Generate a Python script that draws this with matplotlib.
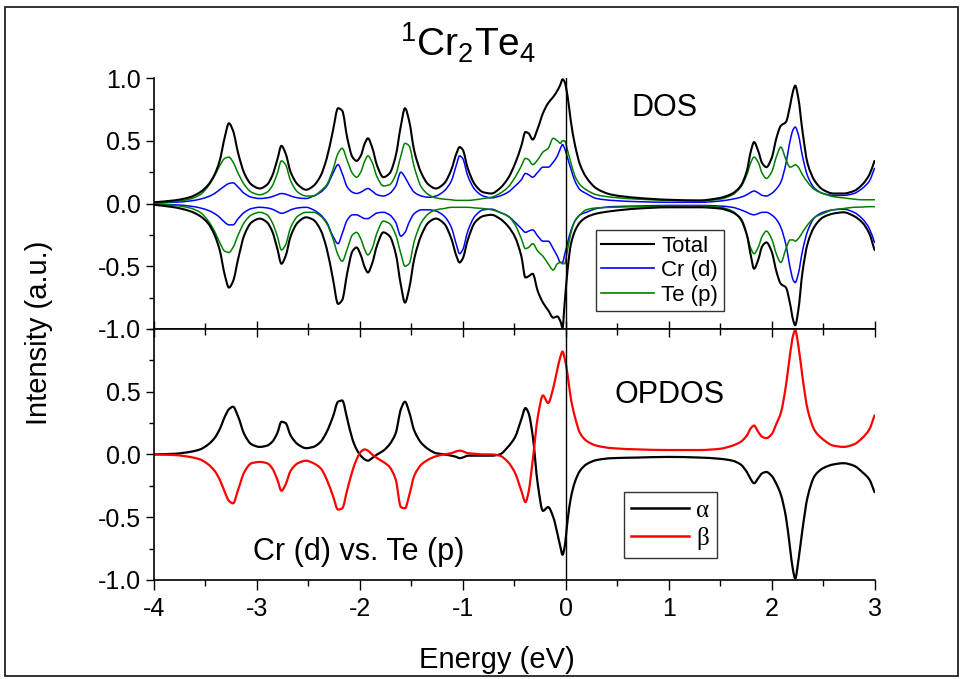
import numpy as np
import matplotlib
matplotlib.use('Agg')
import matplotlib.pyplot as plt
from matplotlib.patches import Rectangle, PathPatch
from matplotlib.path import Path
from matplotlib.lines import Line2D
from matplotlib.ticker import MultipleLocator, FixedLocator

plt.rcParams['font.family'] = ['Liberation Sans', 'DejaVu Sans']
plt.rcParams['mathtext.fontset'] = 'custom'
plt.rcParams['mathtext.rm'] = 'Liberation Sans'
plt.rcParams['mathtext.default'] = 'regular'
plt.rcParams['axes.unicode_minus'] = False

# energy grid (eV)
energy = [-4.0, -3.8, -3.65, -3.55, -3.47, -3.41, -3.36, -3.31, -3.27, -3.23,
          -3.18, -3.12, -3.05, -2.97, -2.9, -2.85, -2.8, -2.76, -2.72, -2.67,
          -2.6, -2.52, -2.45, -2.38, -2.32, -2.26, -2.21, -2.17, -2.12, -2.07,
          -2.03, -1.99, -1.95, -1.92, -1.88, -1.83, -1.77, -1.71, -1.65, -1.6,
          -1.56, -1.52, -1.47, -1.4, -1.33, -1.26, -1.18, -1.11, -1.06, -1.03,
          -1.0, -0.95, -0.88, -0.8, -0.72, -0.64, -0.56, -0.49, -0.43, -0.39,
          -0.36, -0.32, -0.27, -0.22, -0.17, -0.12, -0.08, -0.05, -0.03, -0.01,
          0.02, 0.05, 0.09, 0.14, 0.2, 0.3, 0.45, 0.7, 1.0, 1.3,
          1.5, 1.62, 1.7, 1.76, 1.8, 1.83, 1.87, 1.91, 1.95, 2.0,
          2.05, 2.09, 2.14, 2.18, 2.21, 2.23, 2.26, 2.3, 2.35, 2.42,
          2.5, 2.6, 2.7, 2.8, 2.88, 2.95, 3.0]

# DOS, spin up / spin down
total_up = [0.01, 0.025, 0.05, 0.09, 0.15, 0.23, 0.34, 0.53, 0.64, 0.58,
            0.40, 0.24, 0.15, 0.12, 0.15, 0.22, 0.35, 0.46, 0.40, 0.25,
            0.15, 0.11, 0.14, 0.22, 0.36, 0.58, 0.76, 0.74, 0.52, 0.37,
            0.34, 0.38, 0.48, 0.52, 0.45, 0.30, 0.21, 0.24, 0.38, 0.62,
            0.76, 0.66, 0.42, 0.24, 0.15, 0.12, 0.16, 0.27, 0.40, 0.45,
            0.43, 0.28, 0.15, 0.09, 0.08, 0.12, 0.20, 0.32, 0.46, 0.57,
            0.56, 0.51, 0.60, 0.72, 0.80, 0.85, 0.90, 0.95, 0.99, 0.97,
            0.85, 0.66, 0.47, 0.31, 0.21, 0.12, 0.07, 0.045, 0.03, 0.025,
            0.045, 0.08, 0.14, 0.26, 0.42, 0.49, 0.42, 0.32, 0.29, 0.36,
            0.53, 0.62, 0.65, 0.78, 0.90, 0.94, 0.84, 0.58, 0.32, 0.18,
            0.11, 0.08, 0.08, 0.10, 0.15, 0.23, 0.34]
total_dn = [-0.01, -0.03, -0.06, -0.10, -0.16, -0.25, -0.37, -0.57, -0.67, -0.62,
            -0.44, -0.25, -0.15, -0.12, -0.15, -0.22, -0.36, -0.48, -0.42, -0.26,
            -0.15, -0.11, -0.13, -0.21, -0.36, -0.60, -0.80, -0.77, -0.55, -0.38,
            -0.35, -0.41, -0.51, -0.55, -0.48, -0.33, -0.23, -0.26, -0.40, -0.65,
            -0.79, -0.68, -0.44, -0.25, -0.15, -0.12, -0.16, -0.28, -0.42, -0.47,
            -0.44, -0.29, -0.15, -0.10, -0.09, -0.12, -0.18, -0.27, -0.42, -0.59,
            -0.58, -0.56, -0.70, -0.79, -0.85, -0.91, -0.90, -0.94, -0.99, -0.80,
            -0.52, -0.33, -0.22, -0.15, -0.11, -0.08, -0.06, -0.04, -0.03, -0.03,
            -0.04, -0.07, -0.12, -0.25, -0.42, -0.52, -0.45, -0.34, -0.31, -0.38,
            -0.55, -0.64, -0.67, -0.80, -0.93, -0.97, -0.85, -0.55, -0.32, -0.18,
            -0.11, -0.08, -0.07, -0.10, -0.15, -0.24, -0.37]
cr_up = [0.005, 0.01, 0.02, 0.035, 0.055, 0.08, 0.11, 0.14, 0.16, 0.165,
         0.13, 0.08, 0.05, 0.04, 0.045, 0.055, 0.07, 0.08, 0.075, 0.06,
         0.045, 0.04, 0.06, 0.09, 0.14, 0.24, 0.31, 0.24, 0.13, 0.09,
         0.08, 0.09, 0.11, 0.12, 0.10, 0.07, 0.06, 0.08, 0.14, 0.25,
         0.21, 0.15, 0.09, 0.06, 0.05, 0.06, 0.10, 0.18, 0.31, 0.38,
         0.36, 0.22, 0.11, 0.06, 0.045, 0.06, 0.09, 0.14, 0.19, 0.24,
         0.23, 0.21, 0.25, 0.29, 0.29, 0.33, 0.38, 0.44, 0.47, 0.44,
         0.36, 0.28, 0.18, 0.11, 0.08, 0.04, 0.025, 0.015, 0.01, 0.01,
         0.02, 0.035, 0.05, 0.07, 0.09, 0.10, 0.085, 0.065, 0.06, 0.08,
         0.12, 0.17, 0.32, 0.50, 0.59, 0.61, 0.55, 0.38, 0.22, 0.12,
         0.08, 0.065, 0.065, 0.08, 0.12, 0.18, 0.28]
cr_dn = [-0.005, -0.01, -0.02, -0.035, -0.055, -0.08, -0.11, -0.15, -0.17, -0.17,
         -0.12, -0.07, -0.04, -0.03, -0.035, -0.045, -0.065, -0.078, -0.07, -0.05,
         -0.035, -0.03, -0.05, -0.09, -0.15, -0.26, -0.32, -0.24, -0.13, -0.09,
         -0.09, -0.105, -0.12, -0.12, -0.10, -0.075, -0.07, -0.09, -0.15, -0.26,
         -0.23, -0.15, -0.08, -0.05, -0.05, -0.06, -0.10, -0.19, -0.33, -0.40,
         -0.37, -0.22, -0.10, -0.05, -0.045, -0.07, -0.10, -0.15, -0.20, -0.23,
         -0.22, -0.21, -0.26, -0.30, -0.30, -0.36, -0.42, -0.47, -0.47, -0.41,
         -0.31, -0.22, -0.14, -0.09, -0.07, -0.04, -0.025, -0.02, -0.015, -0.015,
         -0.02, -0.03, -0.05, -0.07, -0.085, -0.09, -0.08, -0.07, -0.07, -0.09,
         -0.13, -0.19, -0.33, -0.51, -0.61, -0.63, -0.56, -0.38, -0.22, -0.11,
         -0.07, -0.05, -0.045, -0.07, -0.12, -0.20, -0.31]
te_up = [0.005, 0.015, 0.035, 0.07, 0.14, 0.22, 0.30, 0.36, 0.37, 0.33,
         0.24, 0.15, 0.09, 0.07, 0.09, 0.14, 0.24, 0.34, 0.31, 0.18,
         0.09, 0.06, 0.06, 0.10, 0.15, 0.27, 0.40, 0.44, 0.34, 0.24,
         0.21, 0.25, 0.34, 0.38, 0.33, 0.21, 0.14, 0.15, 0.23, 0.38,
         0.48, 0.46, 0.29, 0.13, 0.07, 0.045, 0.035, 0.03, 0.025, 0.025,
         0.025, 0.025, 0.03, 0.04, 0.05, 0.08, 0.13, 0.21, 0.30, 0.36,
         0.35, 0.31, 0.35, 0.41, 0.44, 0.52, 0.50, 0.48, 0.50, 0.50,
         0.42, 0.33, 0.22, 0.15, 0.11, 0.07, 0.05, 0.035, 0.025, 0.02,
         0.035, 0.07, 0.13, 0.23, 0.33, 0.37, 0.33, 0.24, 0.20, 0.25,
         0.38, 0.45, 0.35, 0.29, 0.30, 0.31, 0.29, 0.23, 0.17, 0.11,
         0.08, 0.055, 0.045, 0.035, 0.03, 0.03, 0.03]
te_dn = [-0.005, -0.015, -0.035, -0.07, -0.14, -0.22, -0.31, -0.38, -0.39, -0.35,
         -0.25, -0.15, -0.09, -0.07, -0.09, -0.15, -0.26, -0.37, -0.33, -0.19,
         -0.10, -0.07, -0.07, -0.10, -0.16, -0.28, -0.41, -0.46, -0.36, -0.25,
         -0.23, -0.28, -0.37, -0.41, -0.36, -0.23, -0.14, -0.16, -0.25, -0.40,
         -0.50, -0.48, -0.30, -0.15, -0.08, -0.05, -0.04, -0.03, -0.03, -0.03,
         -0.03, -0.03, -0.035, -0.04, -0.05, -0.07, -0.10, -0.17, -0.28, -0.36,
         -0.35, -0.32, -0.38, -0.42, -0.48, -0.53, -0.48, -0.47, -0.48, -0.48,
         -0.36, -0.24, -0.14, -0.09, -0.05, -0.035, -0.03, -0.025, -0.02, -0.02,
         -0.03, -0.06, -0.13, -0.25, -0.36, -0.40, -0.35, -0.26, -0.22, -0.28,
         -0.41, -0.47, -0.36, -0.29, -0.29, -0.30, -0.28, -0.23, -0.17, -0.11,
         -0.08, -0.05, -0.04, -0.03, -0.028, -0.025, -0.025]

# OPDOS Cr (d) vs. Te (p)
opdos_alpha = [0.0, 0.005, 0.02, 0.04, 0.08, 0.13, 0.20, 0.30, 0.36, 0.38,
               0.30, 0.16, 0.08, 0.06, 0.07, 0.10, 0.17, 0.26, 0.25, 0.15,
               0.08, 0.05, 0.06, 0.10, 0.18, 0.30, 0.42, 0.43, 0.28, 0.12,
               0.04, -0.01, -0.04, -0.05, -0.03, 0.0, 0.03, 0.08, 0.17, 0.36,
               0.42, 0.34, 0.19, 0.09, 0.04, 0.01, 0.0, -0.01, -0.02, -0.03,
               -0.025, -0.01, -0.01, -0.01, -0.01, 0.0, 0.06, 0.14, 0.28, 0.37,
               0.33, 0.15, -0.24, -0.45, -0.42, -0.50, -0.63, -0.74, -0.80, -0.74,
               -0.52, -0.35, -0.22, -0.13, -0.08, -0.045, -0.03, -0.025, -0.02, -0.025,
               -0.035, -0.05, -0.08, -0.14, -0.20, -0.23, -0.19, -0.15, -0.14, -0.17,
               -0.24, -0.32, -0.50, -0.75, -0.93, -0.99, -0.85, -0.60, -0.34, -0.17,
               -0.11, -0.08, -0.07, -0.09, -0.14, -0.20, -0.30]
opdos_beta = [0.0, -0.005, -0.02, -0.04, -0.08, -0.13, -0.20, -0.30, -0.37, -0.39,
              -0.28, -0.14, -0.07, -0.06, -0.07, -0.11, -0.20, -0.29, -0.24, -0.13,
              -0.07, -0.05, -0.07, -0.11, -0.20, -0.33, -0.44, -0.43, -0.28, -0.13,
              -0.04, 0.02, 0.04, 0.03, 0.0, -0.03, -0.06, -0.10, -0.20, -0.42,
              -0.43, -0.33, -0.17, -0.08, -0.04, -0.015, 0.0, 0.01, 0.025, 0.03,
              0.025, 0.01, 0.005, 0.0, 0.0, -0.01, -0.06, -0.15, -0.29, -0.38,
              -0.30, -0.05, 0.30, 0.47, 0.41, 0.53, 0.68, 0.78, 0.82, 0.77,
              0.63, 0.45, 0.30, 0.17, 0.11, 0.07, 0.05, 0.04, 0.035, 0.035,
              0.045, 0.07, 0.10, 0.15, 0.21, 0.23, 0.18, 0.14, 0.13, 0.16,
              0.25, 0.33, 0.55, 0.80, 0.95, 0.99, 0.87, 0.62, 0.36, 0.19,
              0.12, 0.07, 0.06, 0.08, 0.13, 0.20, 0.31]

x_ticks = [-4, -3, -2, -1, 0, 1, 2, 3]
x_ticklabels = ['-4', '-3', '-2', '-1', '0', '1', '2', '3']

BLUE = '#0000ff'
GREEN = '#008000'
RED = '#ff0000'


def curve(ax, x, y, color, lw):
    # draw the read points as a smooth curve (monotone cubic segments, like Origin's spline line)
    x = np.asarray(x, float)
    y = np.asarray(y, float)
    h = np.diff(x)
    d = np.diff(y) / h
    m = np.zeros_like(y)
    m[0], m[-1] = d[0], d[-1]
    for i in range(1, len(y) - 1):
        if d[i - 1] * d[i] > 0:
            w1 = 2 * h[i] + h[i - 1]
            w2 = h[i] + 2 * h[i - 1]
            m[i] = (w1 + w2) / (w1 / d[i - 1] + w2 / d[i])
    verts = [(x[0], y[0])]
    codes = [Path.MOVETO]
    for i in range(len(h)):
        verts += [(x[i] + h[i] / 3, y[i] + m[i] * h[i] / 3),
                  (x[i + 1] - h[i] / 3, y[i + 1] - m[i + 1] * h[i] / 3),
                  (x[i + 1], y[i + 1])]
        codes += [Path.CURVE4] * 3
    ax.add_patch(PathPatch(Path(verts, codes), fill=False, edgecolor=color, lw=lw,
                           joinstyle='round', capstyle='round', zorder=2))


fig = plt.figure(figsize=(9.61, 6.79), dpi=100)
ax1 = fig.add_axes([0.160, 0.5155, 0.750, 0.3695])
ax2 = fig.add_axes([0.160, 0.146, 0.750, 0.3695], sharex=ax1)

# --- DOS panel
curve(ax1, energy, cr_up, BLUE, 1.1)
curve(ax1, energy, cr_dn, BLUE, 1.1)
curve(ax1, energy, te_up, GREEN, 1.1)
curve(ax1, energy, te_dn, GREEN, 1.1)
curve(ax1, energy, total_up, 'black', 1.5)
curve(ax1, energy, total_dn, 'black', 1.5)
ax1.axvline(0, color='black', lw=1.0)
ax1.set_xlim(-4, 3)
ax1.set_ylim(-1.0, 1.0)

# --- OPDOS panel
curve(ax2, energy, opdos_alpha, 'black', 1.6)
curve(ax2, energy, opdos_beta, RED, 1.6)
ax2.axvline(0, color='black', lw=1.0)
ax2.set_ylim(-1.0, 1.0)

for ax in (ax1, ax2):
    ax.spines['right'].set_visible(False)
    for s in ax.spines.values():
        s.set_linewidth(1.2)
    ax.yaxis.set_major_locator(MultipleLocator(0.5))
    ax.yaxis.set_minor_locator(MultipleLocator(0.25))
    ax.xaxis.set_major_locator(FixedLocator(x_ticks))
    ax.xaxis.set_minor_locator(MultipleLocator(0.5))
    ax.tick_params(axis='y', which='both', direction='out', left=True, right=False,
                   labelsize=18, width=1.0)
    ax.tick_params(axis='y', which='major', length=6)
    ax.tick_params(axis='y', which='minor', length=3.5)

ax1.spines['top'].set_visible(False)
ax1.set_yticks([-1.0, -0.5, 0.0, 0.5, 1.0])
ax1.set_yticklabels(['-1.0', '-0.5', '0.0', '0.5', '1.0'])
ax1.tick_params(axis='x', which='both', direction='in', bottom=True, top=False,
                labelbottom=False, width=1.0)
ax1.tick_params(axis='x', which='major', length=6)
ax1.tick_params(axis='x', which='minor', length=4)

ax2.set_yticks([-1.0, -0.5, 0.0, 0.5])
ax2.set_yticklabels(['-1.0', '-0.5', '0.0', '0.5'])
ax2.set_xticks(x_ticks)
ax2.set_xticklabels(x_ticklabels)
ax2.tick_params(axis='x', which='both', direction='out', bottom=True, top=False,
                labelsize=18, width=1.0, pad=5)
ax2.tick_params(axis='x', which='major', length=7)
ax2.tick_params(axis='x', which='minor', length=4)
sec = ax2.secondary_xaxis('top')
sec.xaxis.set_major_locator(FixedLocator(x_ticks))
sec.xaxis.set_minor_locator(MultipleLocator(0.5))
sec.tick_params(axis='x', which='both', direction='in', labeltop=False, width=1.0)
sec.tick_params(axis='x', which='major', length=6)
sec.tick_params(axis='x', which='minor', length=4)
sec.spines['top'].set_visible(False)

# legends
h1 = [Line2D([], [], color='black', lw=1.5),
      Line2D([], [], color=BLUE, lw=1.2),
      Line2D([], [], color=GREEN, lw=1.2)]
leg1 = ax1.legend(h1, ['Total', 'Cr (d)', 'Te (p)'], loc='upper left',
                  bbox_to_anchor=(0.613, 0.393), borderaxespad=0,
                  fontsize=16, frameon=True, fancybox=False, framealpha=1,
                  edgecolor='#333333', handlelength=2.4, handletextpad=0.3,
                  labelspacing=0.15, borderpad=0.25)
leg1.get_frame().set_linewidth(1.0)

h2 = [Line2D([], [], color='black', lw=1.8),
      Line2D([], [], color=RED, lw=1.8)]
leg2 = ax2.legend(h2, ['α', 'β'], loc='upper left',
                  bbox_to_anchor=(0.652, 0.350), borderaxespad=0,
                  fontsize=18, frameon=True, fancybox=False, framealpha=1,
                  edgecolor='#333333', handlelength=2.3, handletextpad=0.3,
                  labelspacing=0.2, borderpad=0.3)
leg2.get_frame().set_linewidth(1.0)
for t in leg2.get_texts():
    t.set_fontfamily(['Liberation Serif', 'DejaVu Serif'])

# annotations
ax1.text(0.709, 0.88, 'DOS', transform=ax1.transAxes, fontsize=22,
         ha='center', va='center')
ax2.text(0.716, 0.736, 'OPDOS', transform=ax2.transAxes, fontsize=22,
         ha='center', va='center')
ax2.text(0.285, 0.111, 'Cr (d) vs. Te (p)', transform=ax2.transAxes, fontsize=22,
         ha='center', va='center')

fig.text(0.487, 0.937, r'$^{1}$Cr$_{2}$Te$_{4}$', fontsize=28, ha='center', va='center')
fig.text(0.041, 0.51, 'Intensity (a.u.)', rotation=90, fontsize=21,
         ha='center', va='center')
fig.text(0.517, 0.028, 'Energy (eV)', fontsize=21, ha='center', va='center')

# outer frame
fig.patches.append(Rectangle((0.005, 0.004), 0.992, 0.985, transform=fig.transFigure,
                             fill=False, edgecolor='#222222', linewidth=1.3))

fig.savefig('out.png', dpi=100)
